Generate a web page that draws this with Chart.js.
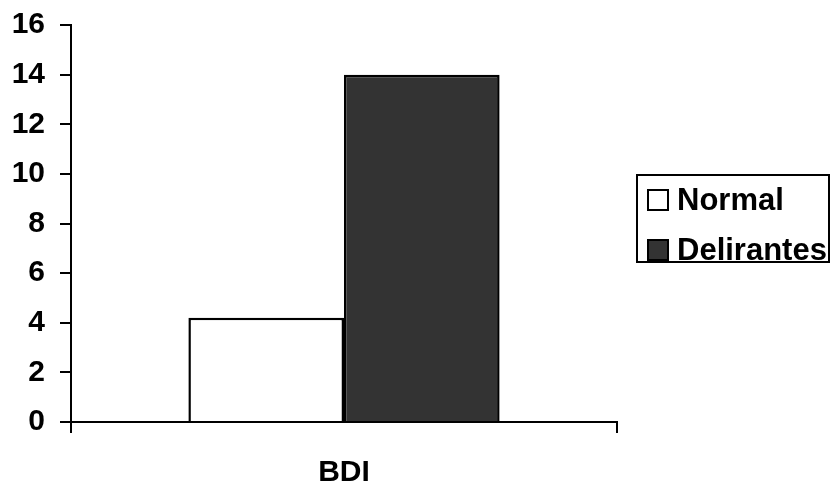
<!DOCTYPE html>
<html>
<head>
<meta charset="utf-8">
<script src="https://cdn.jsdelivr.net/npm/chart.js@4"></script>
<style>
  html, body { margin: 0; padding: 0; background: #fff; }
  #wrap { width: 834px; height: 487px; }
</style>
</head>
<body>
<div id="wrap"><canvas id="bdiChart" width="834" height="487"></canvas></div>
<script>
const categories = ['BDI'];
const seriesNames = ['Normal', 'Delirantes'];
const normalValues = [4.2];
const delirantesValues = [14];
const yTicks = [0, 2, 4, 6, 8, 10, 12, 14, 16];

const FONT = '"Liberation Sans", Arial, sans-serif';

// legend drawn as a boxed list to the right of the plot
const boxLegend = {
    id: 'boxLegend',
    afterDraw(chart) {
        const ctx = chart.ctx;
        const x0 = 637, y0 = 175, w = 192, h = 87;
        ctx.save();
        ctx.lineWidth = 2;
        ctx.strokeStyle = '#000';
        ctx.strokeRect(x0, y0, w, h);
        ctx.font = 'bold 31px ' + FONT;
        ctx.textBaseline = 'middle';
        chart.data.datasets.forEach((ds, i) => {
            const cy = 200 + i * 50;
            ctx.fillStyle = ds.backgroundColor;
            ctx.fillRect(648, cy - 10, 20, 20);
            ctx.lineWidth = 2;
            ctx.strokeStyle = '#000';
            ctx.strokeRect(648, cy - 10, 20, 20);
            ctx.fillStyle = '#000';
            ctx.fillText(ds.label, 677, cy + 1);
        });
        ctx.restore();
    }
};

new Chart(document.getElementById('bdiChart'), {
    type: 'bar',
    plugins: [boxLegend],
    data: {
        labels: categories,
        datasets: [{
            label: seriesNames[0],
            data: normalValues,
            backgroundColor: '#ffffff',
            borderColor: '#000000',
            borderWidth: 2.5
        }, {
            label: seriesNames[1],
            data: delirantesValues,
            backgroundColor: '#333333',
            borderColor: '#000000',
            borderWidth: 2.5
        }]
    },
    options: {
        responsive: false,
        animation: false,
        layout: {
            padding: { top: 25, right: 217, left: 0, bottom: 0 }
        },
        plugins: {
            legend: { display: false },
            tooltip: { enabled: false }
        },
        datasets: {
            bar: { categoryPercentage: 0.57, barPercentage: 1.0 }
        },
        scales: {
            x: {
                offset: true,
                border: { display: true, color: '#000', width: 2 },
                grid: {
                    offset: true,
                    drawOnChartArea: false,
                    color: '#000',
                    lineWidth: 2,
                    tickLength: 11
                },
                ticks: {
                    color: '#000',
                    padding: 22,
                    font: { family: FONT, size: 30, weight: 'bold' }
                },
                afterFit: (scale) => {
                    scale.height = 65;
                    scale.paddingLeft = 0;
                    scale.paddingRight = 0;
                }
            },
            y: {
                min: 0,
                max: 16,
                border: { display: true, color: '#000', width: 2 },
                grid: {
                    drawOnChartArea: false,
                    color: '#000',
                    lineWidth: 2,
                    tickLength: 11
                },
                afterBuildTicks: (scale) => {
                    scale.ticks = yTicks.map(v => ({ value: v }));
                },
                ticks: {
                    color: '#000',
                    padding: 15,
                    font: { family: FONT, size: 30, weight: 'bold' }
                },
                afterFit: (scale) => {
                    scale.width = 71;
                    scale.paddingTop = 0;
                    scale.paddingBottom = 0;
                }
            }
        }
    }
});
</script>
</body>
</html>
